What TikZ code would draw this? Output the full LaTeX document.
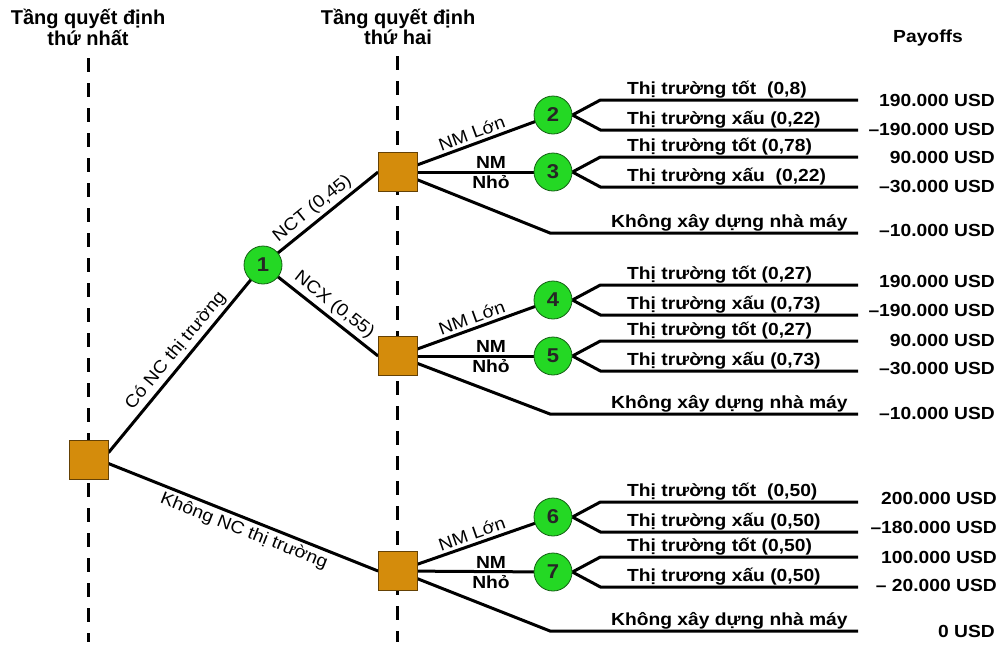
\documentclass[tikz,border=0pt]{standalone}
\usepackage{fontspec}
\setmainfont{Liberation Sans}[FakeStretch=1.1]
\newfontfamily\headfont{Liberation Sans}
\usetikzlibrary{backgrounds}
\definecolor{boxfill}{RGB}{212,140,12}
\definecolor{boxline}{RGB}{100,65,5}
\definecolor{chancefill}{RGB}{36,216,36}
\definecolor{chanceline}{RGB}{20,95,20}

\begin{document}
\begin{tikzpicture}[x=1pt,y=-1pt,
  decision/.style={rectangle, draw=boxline, line width=0.8pt, fill=boxfill,
    minimum size=39pt, inner sep=0pt},
  chance/.style={circle, draw=chanceline, line width=0.8pt, fill=chancefill,
    minimum size=38pt, inner sep=0pt,
    font=\fontsize{20}{20}\selectfont\bfseries, text=black!85},
  branch/.style={line width=3pt},
  stage/.style={line width=3pt, dash pattern=on 14pt off 11pt},
  heading/.style={font=\headfont\fontsize{20}{16.5}\selectfont\bfseries,
    align=center, anchor=base, inner sep=0pt},
  payhead/.style={font=\fontsize{17.5}{18}\selectfont\bfseries,
    anchor=base, inner sep=0pt},
  outcome/.style={font=\fontsize{17.5}{18}\selectfont\bfseries,
    anchor=base west, inner sep=0pt},
  payoff/.style={font=\fontsize{17.5}{18}\selectfont\bfseries,
    anchor=east, inner sep=0pt},
  edgelabel/.style={font=\fontsize{17.5}{18}\selectfont, sloped, inner sep=3pt},
  optlabel/.style={font=\fontsize{17.5}{18}\selectfont\bfseries, inner sep=2pt},
]
\path[use as bounding box] (0,0) rectangle (1004,646);

% stage headings (anchored at the baseline of their last line)
\node[heading] (h1) at (88,45) {Tầng quyết định\\thứ nhất};
\node[heading] (h2) at (398,44) {Tầng quyết định\\thứ hai};
\node[payhead] (ph) at (928,42) {Payoffs};

% stage separators
\coordinate (s1top) at (88,58);  \coordinate (s1bot) at (88,642);
\coordinate (s2top) at (397,56); \coordinate (s2bot) at (397,642);

% decision and chance nodes
\node[decision] (root) at (88.5,460) {};
\node[chance] (c1) at (263,265) {1};
\node[decision] (d1) at (398,172) {};
\node[decision] (d2) at (398,356) {};
\node[decision] (d3) at (398,571) {};
\node[chance] (c2) at (553,115) {2};
\node[chance] (c3) at (553,172) {3};
\node[chance] (c4) at (553,300) {4};
\node[chance] (c5) at (553,356) {5};
\node[chance] (c6) at (553,517) {6};
\node[chance] (c7) at (553,572) {7};

% bends of the "no plant" branches
\coordinate (k1) at (550,233);
\coordinate (k2) at (550,414);
\coordinate (k3) at (550,631);

% branch ends
\coordinate (e2u) at (858,100); \coordinate (e2d) at (858,130);
\coordinate (e3u) at (858,157); \coordinate (e3d) at (858,187);
\coordinate (e1n) at (858,233);
\coordinate (e4u) at (858,285); \coordinate (e4d) at (858,315);
\coordinate (e5u) at (858,341); \coordinate (e5d) at (858,371);
\coordinate (e2n) at (858,414);
\coordinate (e6u) at (858,502); \coordinate (e6d) at (858,532);
\coordinate (e7u) at (858,557); \coordinate (e7d) at (858,587);
\coordinate (e3n) at (858,631);

\begin{scope}[on background layer]
  \draw[stage] (s1top) -- (s1bot);
  \draw[stage] (s2top) -- (s2bot);

  % first decision and survey outcome
  \draw[branch] (root.20) -- node[edgelabel, above, pos=.5] {Có NC thị trường} (c1.center);
  \draw[branch] (root.-10) -- node[edgelabel, below, pos=.52] {Không NC thị trường} (d3.west);
  \draw[branch] (c1.center) -- node[edgelabel, above, pos=.5] {NCT (0,45)} (d1.west);
  \draw[branch] (c1.center) -- node[edgelabel, above, pos=.55] {NCX (0,55)} (d2.west);

  % second decisions
  \draw[branch] (d1.center) -- node[edgelabel, above, pos=.5] {NM Lớn} (c2.center);
  \draw[branch] (d1.center) -- node[optlabel, above, pos=.6] {NM} node[optlabel, below, pos=.6] {Nhỏ} (c3.center);
  \draw[branch] (d1.center) -- (k1) -- (e1n);

  \draw[branch] (d2.center) -- node[edgelabel, above, pos=.5] {NM Lớn} (c4.center);
  \draw[branch] (d2.center) -- node[optlabel, above, pos=.6] {NM} node[optlabel, below, pos=.6] {Nhỏ} (c5.center);
  \draw[branch] (d2.center) -- (k2) -- (e2n);

  \draw[branch] (d3.center) -- node[edgelabel, above, pos=.5] {NM Lớn} (c6.center);
  \draw[branch] (d3.center) -- node[optlabel, above, pos=.6] {NM} node[optlabel, below, pos=.6] {Nhỏ} (c7.center);
  \draw[branch] (d3.center) -- (k3) -- (e3n);

  % market outcomes
  \draw[branch] (c2.east) -- ++(28,-15) -- (e2u);
  \draw[branch] (c2.east) -- ++(28,15) -- (e2d);
  \draw[branch] (c3.east) -- ++(28,-15) -- (e3u);
  \draw[branch] (c3.east) -- ++(28,15) -- (e3d);
  \draw[branch] (c4.east) -- ++(28,-15) -- (e4u);
  \draw[branch] (c4.east) -- ++(28,15) -- (e4d);
  \draw[branch] (c5.east) -- ++(28,-15) -- (e5u);
  \draw[branch] (c5.east) -- ++(28,15) -- (e5d);
  \draw[branch] (c6.east) -- ++(28,-15) -- (e6u);
  \draw[branch] (c6.east) -- ++(28,15) -- (e6d);
  \draw[branch] (c7.east) -- ++(28,-15) -- (e7u);
  \draw[branch] (c7.east) -- ++(28,15) -- (e7d);
\end{scope}

% outcome labels
\node[outcome] (t2u) at (627,94.5) {Thị trường tốt\ \ (0,8)};
\node[outcome] (t2d) at (627,124.5) {Thị trường xấu (0,22)};
\node[outcome] (t3u) at (627,151.5) {Thị trường tốt (0,78)};
\node[outcome] (t3d) at (627,181.5) {Thị trường xấu\ \ (0,22)};
\node[outcome] (t1n) at (611,227.5) {Không xây dựng nhà máy};

\node[outcome] (t4u) at (627,279.5) {Thị trường tốt (0,27)};
\node[outcome] (t4d) at (627,309.5) {Thị trường xấu (0,73)};
\node[outcome] (t5u) at (627,335.5) {Thị trường tốt (0,27)};
\node[outcome] (t5d) at (627,365.5) {Thị trường xấu (0,73)};
\node[outcome] (t2n) at (611,408.5) {Không xây dựng nhà máy};

\node[outcome] (t6u) at (627,496.5) {Thị trường tốt\ \ (0,50)};
\node[outcome] (t6d) at (627,526.5) {Thị trường xấu (0,50)};
\node[outcome] (t7u) at (627,551.5) {Thị trường tốt (0,50)};
\node[outcome] (t7d) at (627,581.5) {Thị trương xấu (0,50)};
\node[outcome] (t3n) at (611,625.5) {Không xây dựng nhà máy};

% payoffs
\node[payoff] (p2u) at (995,100) {190.000 USD};
\node[payoff] (p2d) at (995,129) {–190.000 USD};
\node[payoff] (p3u) at (995,157) {90.000 USD};
\node[payoff] (p3d) at (995,186) {–30.000 USD};
\node[payoff] (p1n) at (995,230) {–10.000 USD};

\node[payoff] (p4u) at (995,281) {190.000 USD};
\node[payoff] (p4d) at (995,310) {–190.000 USD};
\node[payoff] (p5u) at (995,340) {90.000 USD};
\node[payoff] (p5d) at (995,368) {–30.000 USD};
\node[payoff] (p2n) at (995,413) {–10.000 USD};

\node[payoff] (p6u) at (997,498) {200.000 USD};
\node[payoff] (p6d) at (997,527) {–180.000 USD};
\node[payoff] (p7u) at (997,557) {100.000 USD};
\node[payoff] (p7d) at (997,585) {– 20.000 USD};
\node[payoff] (p3n) at (995,631) {0 USD};
\end{tikzpicture}
\end{document}
